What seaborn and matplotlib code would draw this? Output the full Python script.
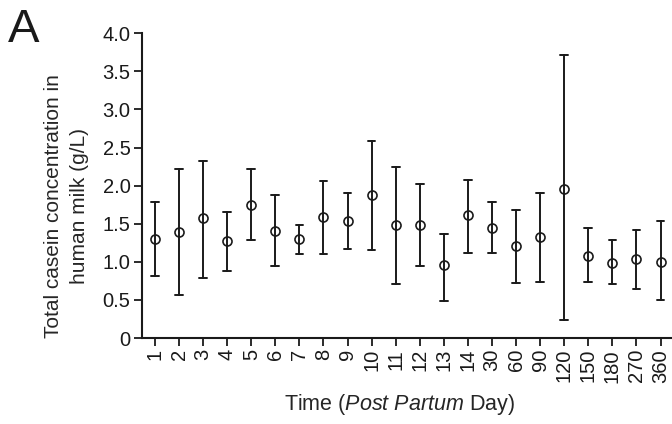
import numpy as np
import pandas as pd
import matplotlib
matplotlib.use("Agg")
import matplotlib.pyplot as plt
import seaborn as sns

days = ["1", "2", "3", "4", "5", "6", "7", "8", "9", "10", "11", "12", "13", "14",
        "30", "60", "90", "120", "150", "180", "270", "360"]
mean = [1.30, 1.39, 1.57, 1.27, 1.75, 1.40, 1.30, 1.59, 1.54, 1.88, 1.48, 1.48, 0.96, 1.61,
        1.44, 1.21, 1.32, 1.96, 1.08, 0.99, 1.04, 1.00]
upper = [1.79, 2.22, 2.33, 1.65, 2.22, 1.88, 1.48, 2.06, 1.91, 2.59, 2.25, 2.02, 1.37, 2.08,
         1.79, 1.68, 1.91, 3.72, 1.44, 1.28, 1.42, 1.53]
lower = [0.82, 0.57, 0.79, 0.88, 1.28, 0.94, 1.10, 1.10, 1.17, 1.15, 0.71, 0.95, 0.48, 1.12,
         1.12, 0.72, 0.73, 0.23, 0.73, 0.71, 0.64, 0.50]
yticks = [0, 0.5, 1.0, 1.5, 2.0, 2.5, 3.0, 3.5, 4.0]
yticklabels = ["0", "0.5", "1.0", "1.5", "2.0", "2.5", "3.0", "3.5", "4.0"]

# long table: per day, lower / mean / upper -> median = mean, min-max = error bar
df = pd.DataFrame({
    "day": np.repeat(days, 3),
    "value": np.column_stack([lower, mean, upper]).ravel(),
})

sns.set_style("ticks")
plt.rcParams["font.family"] = ["Liberation Sans", "DejaVu Sans"]
plt.rcParams["mathtext.fontset"] = "custom"
plt.rcParams["mathtext.rm"] = "Liberation Sans"
plt.rcParams["mathtext.it"] = "Liberation Sans:italic"
plt.rcParams["text.color"] = "#1a1a1a"

fig = plt.figure(figsize=(6.72, 4.24), dpi=100)
ax = fig.add_axes([0.2109, 0.2028, 0.80, 0.7187])

sns.pointplot(data=df, x="day", y="value", order=days, estimator="median",
              errorbar=("pi", 100), linestyle="none", marker="o", color="#1a1a1a",
              capsize=0.32, err_kws={"linewidth": 1.4},
              markersize=6.5, markerfacecolor="white", markeredgecolor="#1a1a1a",
              markeredgewidth=1.2, zorder=5, ax=ax)

ax.set_xlim(-0.55, len(days) - 1 + 0.58 + 0.2)
ax.set_ylim(0, 4.0)
ax.set_yticks(yticks)
ax.set_yticklabels(yticklabels)
ax.tick_params(axis="both", direction="out", length=6, width=1.3, labelsize=14.5,
               color="#1a1a1a", labelcolor="#1a1a1a", pad=2)
ax.tick_params(axis="x", labelrotation=90)
for s in ["left", "bottom"]:
    ax.spines[s].set_linewidth(1.5)
    ax.spines[s].set_color("#1a1a1a")
sns.despine(ax=ax)

ax.set_ylabel("Total casein concentration in\nhuman milk (g/L)", fontsize=15,
              linespacing=1.45)
ax.yaxis.set_label_coords(-0.098, 0.433)
ax.set_xlabel(r"Time ($\it{Post\ Partum}$ Day)", fontsize=15.5)
ax.xaxis.set_label_coords(0.48, -0.178)

fig.text(0.012, 0.98, "A", fontsize=34, va="top", ha="left", color="#1a1a1a")

fig.savefig("out.png", dpi=100)
